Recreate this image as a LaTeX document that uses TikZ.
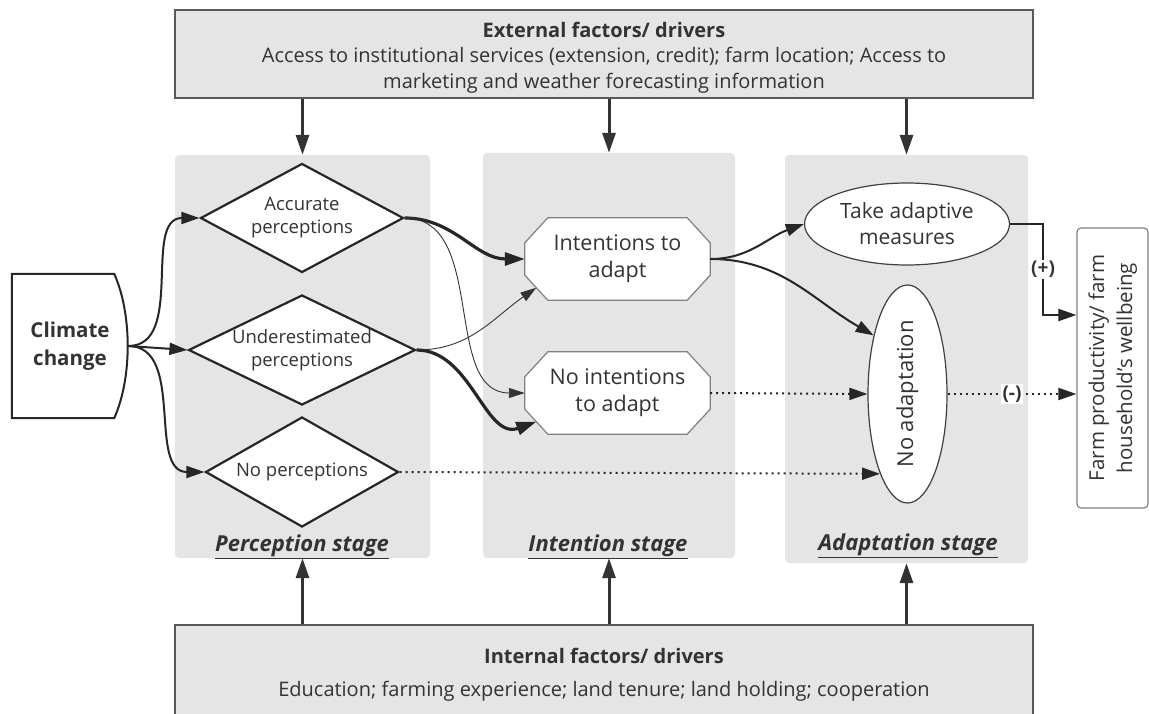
\documentclass[tikz,border=0pt]{standalone}
\usepackage{fontspec}
\setmainfont{Open Sans}
\usepackage{graphicx}
\usetikzlibrary{arrows.meta, shapes.geometric}

\begin{document}
\begin{tikzpicture}[
  x=1pt, y=-1pt,
  font=\fontsize{18}{23}\selectfont,
  every node/.style={text=black!80},
  factor/.style={draw=black!65, fill=black!10, line width=1.2pt, rectangle, minimum width=858pt, align=center, inner sep=0pt, font=\fontsize{20}{26}\selectfont},
  stage/.style={fill=black!10, rounded corners=4pt, inner sep=0pt},
  stagename/.style={font=\fontsize{22}{24}\selectfont\bfseries\itshape},
  percept/.style={diamond, draw=black!85, line width=2.2pt, fill=white, inner sep=0pt, aspect=2.06, align=center, font=\fontsize{18.5}{23}\selectfont},
  intent/.style={rectangle, minimum width=185pt, minimum height=82pt, inner sep=0pt},
  octline/.style={draw=black!50, line width=1.2pt, fill=white},
  adapt/.style={ellipse, draw=black!75, line width=1.2pt, fill=white, inner sep=0pt, align=center, font=\fontsize{21}{26}\selectfont},
  sign/.style={fill=white, inner sep=1.5pt, font=\fontsize{19}{20}\selectfont\bfseries},
  bigarrow/.style={-{Triangle[length=20pt, width=13pt]}, line width=3pt, black!80},
  arrow/.style={-{Triangle[length=18pt, width=12pt]}, line width=2pt, black!85},
  heavy/.style={-{Triangle[length=20pt, width=13pt]}, line width=3.2pt, black!85},
  slim/.style={-{Triangle[length=16pt, width=10pt]}, line width=0.9pt, black!80},
  dotarrow/.style={arrow, dash pattern=on 2pt off 4pt}
]
\clip (0,0) rectangle (1149,714);

% Level 0: drivers above and below
\node[factor, minimum height=88pt] (ext) at (604,54) {\rule{0pt}{22pt}\textbf{External factors/ drivers}\\[-1pt]Access to institutional services (extension, credit); farm location; Access to\\marketing and weather forecasting information};
\node[factor, minimum height=100pt] (int) at (604,675) {\textbf{Internal factors/ drivers}\\[7pt]Education; farming experience; land tenure; land holding; cooperation};

% Level 1: the three stages
\node[stage, minimum width=255pt, minimum height=403pt] (pstage) at (302.5,356.5) {};
\node[stage, minimum width=252pt, minimum height=405pt] (istage) at (609,355.5) {};
\node[stage, minimum width=243pt, minimum height=408pt] (astage) at (906.5,359) {};
\node[stagename] (pname) at (302,547) {\underline{Perception stage}};
\node[stagename] (iname) at (608,547) {\underline{Intention stage}};
\node[stagename] (aname) at (908,546) {\underline{Adaptation stage}};
\draw[bigarrow] (ext.south -| pstage.north) -- (pstage.north);
\draw[bigarrow] (ext.south -| istage.north) -- (istage.north);
\draw[bigarrow] (ext.south -| astage.north) -- (astage.north);
\draw[bigarrow] (int.north -| pstage.south) -- (pstage.south);
\draw[bigarrow] (int.north -| istage.south) -- (istage.south);
\draw[bigarrow] (int.north -| astage.south) -- (astage.south);

% Level 2: climate change and perceptions
\node[font=\fontsize{20.5}{28}\selectfont\bfseries, align=center, minimum width=116pt, minimum height=144pt, inner sep=0pt] (climate) at (70,346) {Climate\\change};
\draw[line width=2pt, black!85] ([xshift=-14pt]climate.north east) -- (climate.north west) -- (climate.south west) -- ([xshift=-14pt]climate.south east) .. controls ([xshift=4pt, yshift=40pt]climate.south east) and ([xshift=4pt, yshift=-40pt]climate.north east) .. cycle;
\node[percept, minimum width=203pt, minimum height=109pt] (accurate) at (302,218) {Accurate\\perceptions};
\node[percept, minimum width=227pt, minimum height=110pt] (under) at (302,350) {Underestimated\\perceptions};
\node[percept, minimum width=193pt, minimum height=110pt] (noperc) at (302,472) {No perceptions};
\draw[arrow] (climate.east) to[out=0, in=180] (accurate.west);
\draw[arrow] (climate.east) -- (under.west);
\draw[arrow] (climate.east) to[out=0, in=180] (noperc.west);

% Level 3: intentions (octagons drawn from the node corners)
\node[intent] (intend) at (617.5,259) {};
\filldraw[octline] ([xshift=23pt]intend.north west) -- ([xshift=-23pt]intend.north east) -- ([yshift=-25pt]intend.north east) -- ([yshift=25pt]intend.south east) -- ([xshift=-23pt]intend.south east) -- ([xshift=23pt]intend.south west) -- ([yshift=25pt]intend.south west) -- ([yshift=-25pt]intend.north west) -- cycle;
\node[align=center, font=\fontsize{21.5}{27}\selectfont] (intendtext) at (intend) {Intentions to\\adapt};
\node[intent] (nointend) at (617.5,393) {};
\filldraw[octline] ([xshift=23pt]nointend.north west) -- ([xshift=-23pt]nointend.north east) -- ([yshift=-25pt]nointend.north east) -- ([yshift=25pt]nointend.south east) -- ([xshift=-23pt]nointend.south east) -- ([xshift=23pt]nointend.south west) -- ([yshift=25pt]nointend.south west) -- ([yshift=-25pt]nointend.north west) -- cycle;
\node[align=center, font=\fontsize{21.5}{27}\selectfont] (nointendtext) at (nointend) {No intentions\\to adapt};
\draw[heavy] (accurate.east) to[out=0, in=180] (intend.west);
\draw[slim] (accurate.east) to[out=0, in=180] (nointend.west);
\draw[slim] (under.east) to[out=0, in=215] ([shift={(11.5pt,12.5pt)}]intend.south west);
\draw[heavy] (under.east) to[out=0, in=200] ([shift={(11.5pt,12.5pt)}]nointend.south west);

% Level 4: adaptation and outcome
\node[adapt, minimum width=205pt, minimum height=82pt] (take) at (907,224) {Take adaptive\\measures};
\node[adapt, minimum width=79pt, minimum height=218pt, font=\fontsize{22}{26}\selectfont] (noadapt) at (907.5,394) {\rotatebox{90}{No adaptation}};
\node[draw=black!50, line width=1.2pt, rounded corners=4pt, fill=white, minimum width=71pt, minimum height=280pt, inner sep=0pt, font=\fontsize{20.5}{28}\selectfont] (farm) at (1112.5,368) {\rotatebox{90}{\begin{tabular}{@{}c@{}}Farm productivity/ farm\\household's wellbeing\end{tabular}}};
\draw[dotarrow] (noperc.east) -- (noadapt.251);
\draw[dotarrow] (nointend.east) -- (noadapt.west);
\draw[arrow] (intend.east) to[out=0, in=200] (take.west);
\draw[arrow] (intend.east) to[out=0, in=150] (noadapt.120);
\draw[arrow] (take.east) -- ++(33,0) |- node[pos=0.25, sign] {(+)} ([yshift=53pt]farm.west);
\draw[dotarrow] (noadapt.east) -- node[sign] {(-)} (noadapt.east -| farm.west);

\end{tikzpicture}
\end{document}
